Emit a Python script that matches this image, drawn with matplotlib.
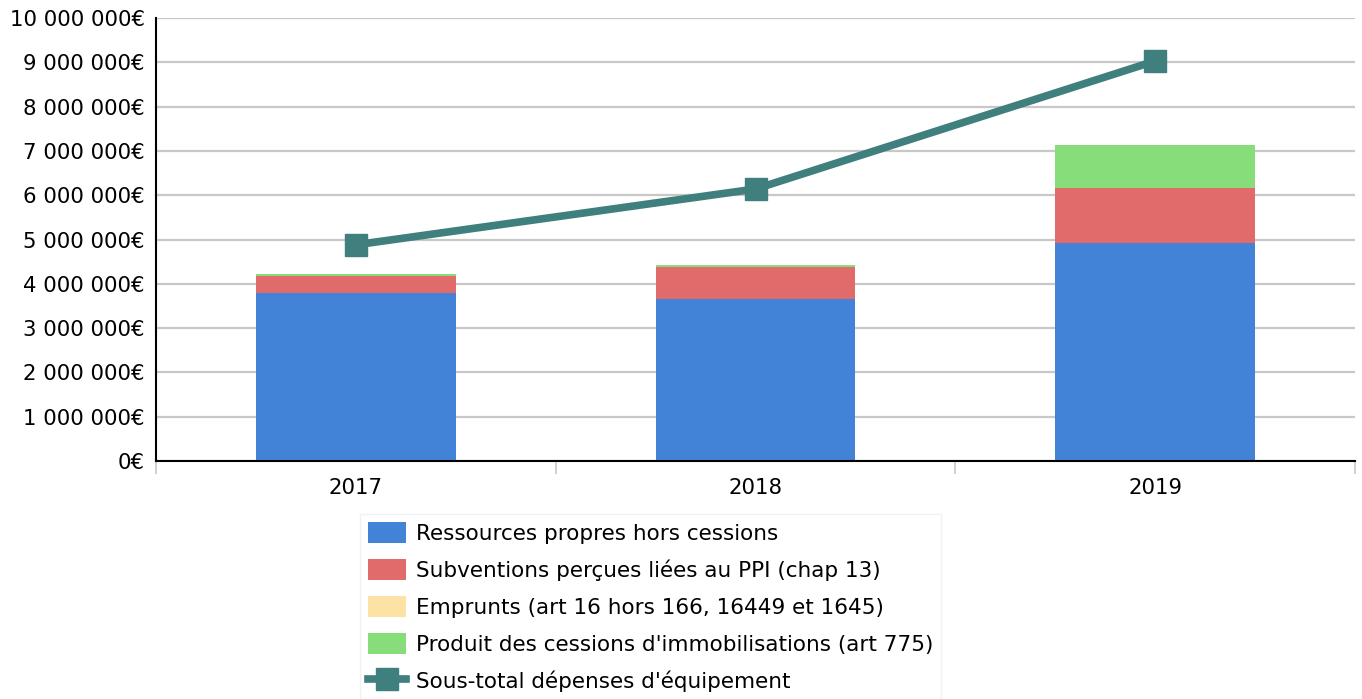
import matplotlib.pyplot as plt
from matplotlib.ticker import FuncFormatter

# Data
years = ['2017', '2018', '2019']
ressources_propres = [3790000, 3650000, 4930000]
subventions = [390000, 740000, 1230000]
emprunts = [0, 0, 0]
cessions = [30000, 30000, 980000]
sous_total = [4880000, 6140000, 9030000]

labels = ['Ressources propres hors cessions',
          'Subventions perçues liées au PPI (chap 13)',
          'Emprunts (art 16 hors 166, 16449 et 1645)',
          "Produit des cessions d'immobilisations (art 775)",
          "Sous-total dépenses d'équipement"]
colors = ['#4283d8', '#e16b6b', '#fde2a6', '#88dd7b']
line_color = '#3f7f7d'

fig = plt.figure(figsize=(13.62, 6.99), dpi=100)
ax = fig.add_axes([156 / 1362, 1 - 461 / 699, (1355 - 156) / 1362, (461 - 18) / 699])

x = list(range(len(years)))
bottom = [0] * len(years)
for vals, col, lab in zip([ressources_propres, subventions, emprunts, cessions], colors, labels[:4]):
    ax.bar(x, vals, width=0.5, bottom=bottom, color=col, label=lab, zorder=2)
    bottom = [b + v for b, v in zip(bottom, vals)]

ax.plot(x, sous_total, color=line_color, linewidth=5.5, marker='s', markersize=16,
        label=labels[4], zorder=3)

ax.set_xlim(-0.5, 2.5)
ax.set_ylim(0, 10000000)
ax.set_yticks(range(0, 10000001, 1000000))
ax.yaxis.set_major_formatter(FuncFormatter(
    lambda v, p: '{:,.0f}€'.format(v).replace(',', ' ')))
ax.grid(axis='y', color='#c8c8c8', linewidth=1.6, zorder=0)
ax.set_axisbelow(True)

ax.set_xticks([-0.5, 0.5, 1.5, 2.5])
ax.set_xticklabels([])
ax.set_xticks(x, minor=True)
ax.set_xticklabels(years, minor=True)
ax.tick_params(axis='x', which='major', length=9, width=1.2, color='#c8c8c8', direction='out')
ax.tick_params(axis='x', which='minor', length=0, pad=12, labelsize=15.3)
ax.tick_params(axis='y', length=0, pad=8, labelsize=15.3)

for s in ['top', 'right']:
    ax.spines[s].set_visible(False)
ax.spines['left'].set_linewidth(1.5)
ax.spines['bottom'].set_linewidth(1.5)

handles, labs = ax.get_legend_handles_labels()
order = [1, 2, 3, 4, 0]
leg = fig.legend([handles[i] for i in order], [labs[i] for i in order],
                 loc='upper left', bbox_to_anchor=(360 / 1362, 1 - 514 / 699),
                 borderaxespad=0,
                 fontsize=15.5, frameon=True, fancybox=False, edgecolor='#eeeeee',
                 handlelength=1.8, handleheight=1.15, labelspacing=0.7,
                 handletextpad=0.45, borderpad=0.35)
leg.get_frame().set_linewidth(1)

fig.savefig('out.png', dpi=100)
